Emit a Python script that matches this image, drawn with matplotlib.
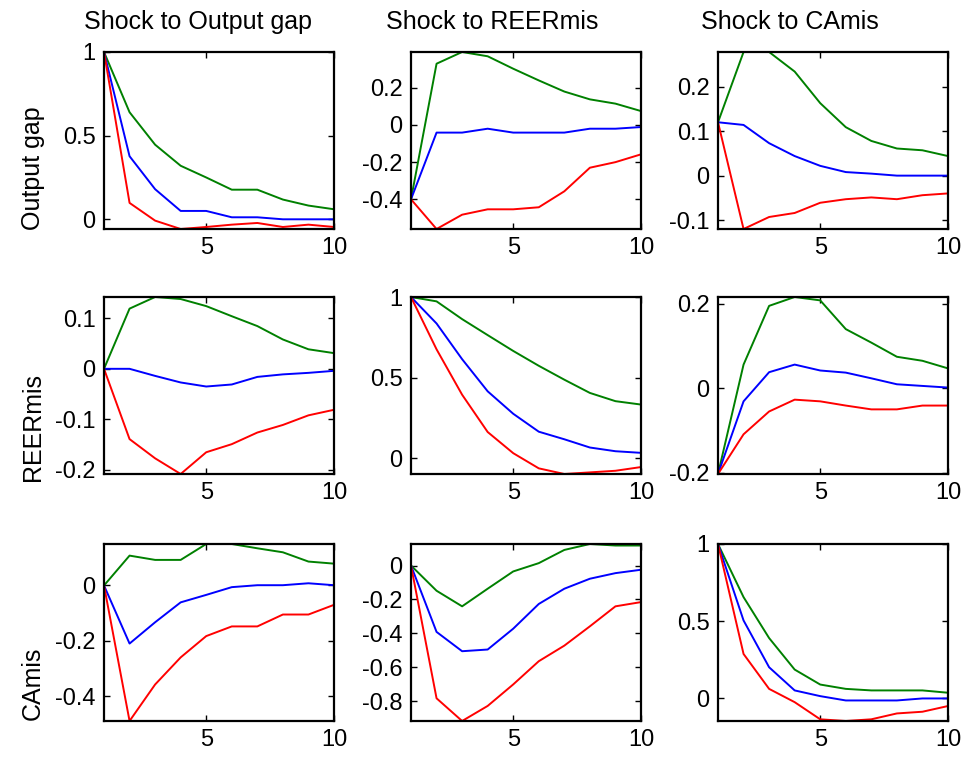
import numpy as np
import matplotlib
matplotlib.use("Agg")
import matplotlib.pyplot as plt

plt.rcParams['font.family'] = ['Liberation Sans', 'DejaVu Sans']

# horizon
steps = list(range(1, 11))

shocks = ["Output gap", "REERmis", "CAmis"]
responses = ["Output gap", "REERmis", "CAmis"]

# impulse responses: [response][shock] -> (upper, median, lower)
og_og_up = [1, 0.64, 0.446, 0.32, 0.25, 0.177, 0.177, 0.118, 0.082, 0.06]
og_og_md = [1, 0.377, 0.18, 0.05, 0.05, 0.012, 0.012, 0.0, 0.0, 0.0]
og_og_lo = [1, 0.098, -0.008, -0.058, -0.046, -0.032, -0.022, -0.046, -0.032, -0.046]

og_re_up = [-0.4, 0.33, 0.393, 0.37, 0.303, 0.24, 0.18, 0.138, 0.115, 0.075]
og_re_md = [-0.4, -0.041, -0.041, -0.02, -0.041, -0.041, -0.041, -0.02, -0.02, -0.011]
og_re_lo = [-0.4, -0.56, -0.483, -0.454, -0.454, -0.443, -0.357, -0.23, -0.2, -0.158]

og_ca_up = [0.12, 0.278, 0.278, 0.234, 0.163, 0.109, 0.078, 0.061, 0.057, 0.044]
og_ca_md = [0.12, 0.114, 0.073, 0.044, 0.022, 0.008, 0.0045, 0.0, 0.0, 0.0]
og_ca_lo = [0.12, -0.12, -0.093, -0.084, -0.061, -0.053, -0.049, -0.053, -0.044, -0.040]

re_og_up = [0, 0.119, 0.142, 0.138, 0.124, 0.104, 0.0845, 0.058, 0.0386, 0.031]
re_og_md = [0, 0.0, -0.014, -0.027, -0.035, -0.031, -0.016, -0.011, -0.008, -0.004]
re_og_lo = [0, -0.139, -0.177, -0.208, -0.165, -0.149, -0.126, -0.111, -0.092, -0.081]

re_re_up = [1, 0.973, 0.863, 0.764, 0.666, 0.574, 0.488, 0.406, 0.355, 0.334]
re_re_md = [1, 0.836, 0.615, 0.416, 0.277, 0.166, 0.119, 0.068, 0.045, 0.035]
re_re_lo = [1, 0.676, 0.395, 0.164, 0.033, -0.061, -0.096, -0.086, -0.076, -0.053]

re_ca_up = [-0.203, 0.056, 0.195, 0.216, 0.208, 0.14, 0.108, 0.0745, 0.065, 0.047]
re_ca_md = [-0.203, -0.031, 0.038, 0.056, 0.042, 0.037, 0.0235, 0.0094, 0.0055, 0.0016]
re_ca_lo = [-0.203, -0.109, -0.055, -0.027, -0.031, -0.041, -0.05, -0.05, -0.041, -0.041]

ca_og_up = [0, 0.108, 0.0925, 0.0925, 0.15, 0.15, 0.1345, 0.12, 0.0865, 0.079]
ca_og_md = [0, -0.21, -0.133, -0.061, -0.034, -0.006, 0.001, 0.001, 0.008, 0.001]
ca_og_lo = [0, -0.49, -0.358, -0.26, -0.183, -0.148, -0.148, -0.105, -0.105, -0.07]

ca_re_up = [0, -0.149, -0.241, -0.137, -0.035, 0.014, 0.092, 0.127, 0.118, 0.118]
ca_re_md = [0, -0.392, -0.506, -0.496, -0.373, -0.227, -0.137, -0.078, -0.045, -0.025]
ca_re_lo = [0, -0.784, -0.918, -0.829, -0.702, -0.565, -0.473, -0.359, -0.241, -0.216]

ca_ca_up = [1, 0.656, 0.391, 0.187, 0.09, 0.062, 0.052, 0.052, 0.052, 0.037]
ca_ca_md = [1, 0.505, 0.202, 0.052, 0.015, -0.013, -0.013, -0.013, 0.0, 0.0]
ca_ca_lo = [1, 0.288, 0.062, -0.024, -0.135, -0.146, -0.135, -0.097, -0.086, -0.049]

panels = [
    [(og_og_up, og_og_md, og_og_lo), (og_re_up, og_re_md, og_re_lo), (og_ca_up, og_ca_md, og_ca_lo)],
    [(re_og_up, re_og_md, re_og_lo), (re_re_up, re_re_md, re_re_lo), (re_ca_up, re_ca_md, re_ca_lo)],
    [(ca_og_up, ca_og_md, ca_og_lo), (ca_re_up, ca_re_md, ca_re_lo), (ca_ca_up, ca_ca_md, ca_ca_lo)],
]

yticks = [
    [[0, 0.5, 1], [-0.4, -0.2, 0, 0.2], [-0.1, 0, 0.1, 0.2]],
    [[-0.2, -0.1, 0, 0.1], [0, 0.5, 1], [-0.2, 0, 0.2]],
    [[-0.4, -0.2, 0], [-0.8, -0.6, -0.4, -0.2, 0], [0, 0.5, 1]],
]

W, H = 965, 757
fig = plt.figure(figsize=(W / 100, H / 100), dpi=100)

col_left = [104, 411, 718]
row_top = [52, 297, 544]
ax_w, ax_h = 230, 177

for i in range(3):
    for j in range(3):
        ax = fig.add_axes([col_left[j] / W, 1 - (row_top[i] + ax_h) / H, ax_w / W, ax_h / H])
        up, md, lo = panels[i][j]
        ax.plot(steps, up, color=(0, 0.5, 0), lw=1.4)
        ax.plot(steps, md, color=(0, 0, 1), lw=1.4)
        ax.plot(steps, lo, color=(1, 0, 0), lw=1.4)
        allv = up + md + lo
        ax.set_xlim(1, 10)
        ax.set_ylim(min(allv), max(allv))
        ax.set_xticks([5, 10])
        ax.set_yticks(yticks[i][j])
        ax.set_yticklabels(["%g" % v for v in yticks[i][j]])
        ax.tick_params(direction='in', top=True, right=True, labelsize=17,
                       length=4, width=1, pad=6)
        for s in ax.spines.values():
            s.set_linewidth(1.6)

# column titles and row labels
title_x = [198, 492, 790]
for j in range(3):
    fig.text(title_x[j] / W, 1 - 22 / H, "Shock to " + shocks[j],
             ha='center', va='center', fontsize=18)

label_y = [168, 427, 683]
for i in range(3):
    fig.text(33 / W, 1 - label_y[i] / H, responses[i], rotation=90,
             ha='center', va='center', fontsize=18)

fig.savefig("out.png", dpi=100)
